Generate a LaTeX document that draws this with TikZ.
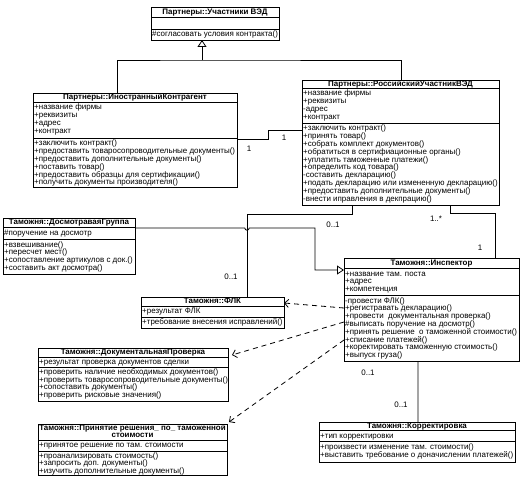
\documentclass[tikz,border=0pt]{standalone}
\usepackage{fontspec}
\setmainfont{Liberation Sans}
\usetikzlibrary{arrows.meta,calc}
\newcommand{\fsz}{\fontsize{8}{8}\selectfont}
\begin{document}
\begin{tikzpicture}[x=1bp,y=-1bp,
  cls/.style={draw, line width=0.8bp, anchor=north west, inner sep=0, outer sep=0},
  txt/.style={anchor=west, inner sep=0, font=\fsz, text height=5.8bp, text depth=1.6bp},
  hdr/.style={anchor=center, inner sep=0, font=\fsz\bfseries, text height=5.8bp, text depth=1.6bp},
  mult/.style={anchor=center, inner sep=0, font=\fsz},
  sepl/.style={line width=0.8bp},
  conn/.style={line width=0.8bp},
  gen/.style={conn, -{Triangle[open, length=7bp, width=9bp]}},
  dep/.style={conn, dash pattern=on 5bp off 4bp, -{Straight Barb[length=4bp, width=8bp]}},
]
\useasboundingbox[fill=white] (0,0) rectangle (525,481);

% ---------- Partnery::Uchastniki VED
\node[cls, minimum width=128bp, minimum height=33bp] (uch) at (151,7) {};
\draw[sepl] ([yshift=-10bp]uch.north west) -- ([yshift=-10bp]uch.north east);
\draw[sepl] ([yshift=-22bp]uch.north west) -- ([yshift=-22bp]uch.north east);
\node[hdr] (uch-h) at (215,12) {Партнеры::Участники ВЭД};
\node[txt] (uch-m0) at (152,34.5) {\#согласовать условия контракта()};

% ---------- Inostranny Kontragent
\node[cls, minimum width=204bp, minimum height=94bp] (ino) at (33,93) {};
\draw[sepl] ([yshift=-9bp]ino.north west) -- ([yshift=-9bp]ino.north east);
\draw[sepl] ([yshift=-45bp]ino.north west) -- ([yshift=-45bp]ino.north east);
\node[hdr] (ino-h) at (135,97.5) {Партнеры::ИностранныйКонтрагент};
\foreach \tx [count=\i from 0] in {+название фирмы, +реквизиты, +адрес, +контракт}
  \node[txt] (ino-a\i) at (34,{107.9+7.8*\i}) {\tx};
\foreach \tx [count=\i from 0] in {+заключить контракт(), +предоставить товаросопроводительные документы(), +предоставить дополнительные документы(), +поставить товар(), +предоставить образцы для сертификации(), +получить документы производителя()}
  \node[txt] (ino-m\i) at (34,{143.9+7.8*\i}) {\tx};

% ---------- Rossiysky Uchastnik VED
\node[cls, minimum width=197bp, minimum height=125bp] (rus) at (302,80) {};
\draw[sepl] ([yshift=-8bp]rus.north west) -- ([yshift=-8bp]rus.north east);
\draw[sepl] ([yshift=-43bp]rus.north west) -- ([yshift=-43bp]rus.north east);
\node[hdr] (rus-h) at (400.5,84) {Партнеры::РоссийскийУчастникВЭД};
\foreach \tx [count=\i from 0] in {+название фирмы, +реквизиты, -адрес, +контракт}
  \node[txt] (rus-a\i) at (303,{93.9+7.8*\i}) {\tx};
\foreach \tx [count=\i from 0] in {+заключить контракт(), +принять товар(), +собрать комплект документов(), +обратиться в сертифиационные органы(), +уплатить таможенные платежи(), +определить код товара(), -составить декларацию(), +подать декларацию или измененную декларацию(), +предоставить дополнительные документы(), -внести иправления в декпрацию()}
  \node[txt] (rus-m\i) at (303,{128.9+7.8*\i}) {\tx};

% ---------- Dosmotrovaya Gruppa
\node[cls, minimum width=132bp, minimum height=56bp] (dos) at (3,218) {};
\draw[sepl] ([yshift=-9bp]dos.north west) -- ([yshift=-9bp]dos.north east);
\draw[sepl] ([yshift=-21bp]dos.north west) -- ([yshift=-21bp]dos.north east);
\node[hdr] (dos-h) at (69,222.5) {Таможня::ДосмотраваяГруппа};
\node[txt] (dos-a0) at (4,233) {\#поручение на досмотр};
\foreach \tx [count=\i from 0] in {+взвешивание(), +пересчет мест(), +сопоставление артикулов с док.(), +составить акт досмотра()}
  \node[txt] (dos-m\i) at (4,{244.9+7.8*\i}) {\tx};

% ---------- FLK
\node[cls, minimum width=143bp, minimum height=31bp] (flk) at (141,297) {};
\draw[sepl] ([yshift=-9bp]flk.north west) -- ([yshift=-9bp]flk.north east);
\draw[sepl] ([yshift=-20bp]flk.north west) -- ([yshift=-20bp]flk.north east);
\node[hdr] (flk-h) at (212.5,301.5) {Таможня::ФЛК};
\node[txt] (flk-a0) at (142,311.5) {+результат ФЛК};
\node[txt] (flk-m0) at (142,322.7) {+требование внесения исправлений()};

% ---------- Dokumentalnaya Proverka
\node[cls, minimum width=190bp, minimum height=53bp] (doc) at (38,348) {};
\draw[sepl] ([yshift=-9.5bp]doc.north west) -- ([yshift=-9.5bp]doc.north east);
\draw[sepl] ([yshift=-19.5bp]doc.north west) -- ([yshift=-19.5bp]doc.north east);
\node[hdr] (doc-h) at (133,352.8) {Таможня::ДокументальнаяПроверка};
\node[txt] (doc-a0) at (39,362.5) {+результат проверка документов сделки};
\foreach \tx [count=\i from 0] in {+проверить наличие необходимых документов(), +проверить товаросопроводительные документы(), +сопоставить документы(), +проверить рисковые значения()}
  \node[txt] (doc-m\i) at (39,{372.5+7.6*\i}) {\tx};

% ---------- Prinyatie resheniya
\node[cls, minimum width=189bp, minimum height=51bp] (dec) at (38,424) {};
\draw[sepl] ([yshift=-16.5bp]dec.north west) -- ([yshift=-16.5bp]dec.north east);
\draw[sepl] ([yshift=-27bp]dec.north west) -- ([yshift=-27bp]dec.north east);
\node[hdr] (dec-h1) at (132.5,428.5) {Таможня::Принятие решения\_ по\_ таможенной};
\node[hdr] (dec-h2) at (132.5,435.8) {стоимости};
\node[txt] (dec-a0) at (39,445.7) {+принятое решение по там. стоимости};
\foreach \tx [count=\i from 0] in {+проанализировать стоимость(), +запросить доп. документы(), +изучить дополнительные документы()}
  \node[txt] (dec-m\i) at (39,{456+7.5*\i}) {\tx};

% ---------- Inspektor
\node[cls, minimum width=175bp, minimum height=103bp] (ins) at (344,258) {};
\draw[sepl] ([yshift=-10bp]ins.north west) -- ([yshift=-10bp]ins.north east);
\draw[sepl] ([yshift=-37.3bp]ins.north west) -- ([yshift=-37.3bp]ins.north east);
\node[hdr] (ins-h) at (431.5,263) {Таможня::Инспектор};
\foreach \tx [count=\i from 0] in {+название там. поста, +адрес, +компетенция}
  \node[txt] (ins-a\i) at (345,{273.9+7.8*\i}) {\tx};
\foreach \tx [count=\i from 0] in {-провести ФЛК(), +регистравать декларацию(), {+провести\ \ документальная проверка()}, \#выписать поручение на досмотр(), {+принять решение\ \ о таможенной стоимости()}, +списание платежей(), +коректировать таможенную стоимость(), +выпуск груза()}
  \node[txt] (ins-m\i) at (345,{300.9+7.8*\i}) {\tx};

% ---------- Korrektirovka
\node[cls, minimum width=196bp, minimum height=40bp] (kor) at (319,422) {};
\draw[sepl] ([yshift=-8bp]kor.north west) -- ([yshift=-8bp]kor.north east);
\draw[sepl] ([yshift=-19.5bp]kor.north west) -- ([yshift=-19.5bp]kor.north east);
\node[hdr] (kor-h) at (417,426) {Таможня::Корректировка};
\node[txt] (kor-a0) at (320,436) {+тип корректировки};
\node[txt] (kor-m0) at (320,447.2) {+произвести изменение там. стоимости()};
\node[txt] (kor-m1) at (320,455) {+выставить требование о доначислении платежей()};

% ---------- connectors
\coordinate (gx) at (202,60);
\draw[gen] (gx) -- (gx |- uch.south);
\draw[conn] ([xshift=84bp]ino.north west) |- (gx) -| ([xshift=99bp]rus.north west);

\draw[conn] ([yshift=-46bp]ino.north east) -- ++(31,0) |- ([yshift=-50bp]rus.north west);
\node[mult] (m-ino) at (249,149) {1};
\node[mult] (m-rus1) at (284,138) {1};

\draw[conn] ([xshift=50bp]rus.south west) -- ++(0,9) -| ([xshift=106bp]flk.north west);
\node[mult] (m-rus2) at (333,225) {0..1};
\node[mult] (m-flk) at (231,277) {0..1};

\draw[conn] ([xshift=148bp]rus.south west) -- ++(0,8) -| ([xshift=151bp]ins.north west);
\node[mult] (m-rus3) at (436,219) {1..*};
\node[mult] (m-ins1) at (480,248) {1};

\coordinate (hop) at (247,228);
\draw[gen] ([yshift=-10bp]dos.north east) -- ([xshift=-2.2bp]hop) arc[start angle=180, end angle=360, radius=2.2bp] -- (315,228) |- ([yshift=-12bp]ins.north west);

\draw[conn] ([xshift=74bp]ins.south west) -- ([xshift=99bp]kor.north west);
\node[mult] (m-ins2) at (368,373) {0..1};
\node[mult] (m-kor) at (401,405) {0..1};

\draw[dep] ([yshift=-50bp]ins.north west) -- ([yshift=-6bp]flk.north east);
\draw[dep] ([yshift=-64bp]ins.north west) -- ([xshift=4bp,yshift=-7bp]doc.north east);
\draw[dep] ([yshift=-82bp]ins.north west) -- ([xshift=2bp,yshift=2bp]dec.north east);
\end{tikzpicture}
\end{document}
